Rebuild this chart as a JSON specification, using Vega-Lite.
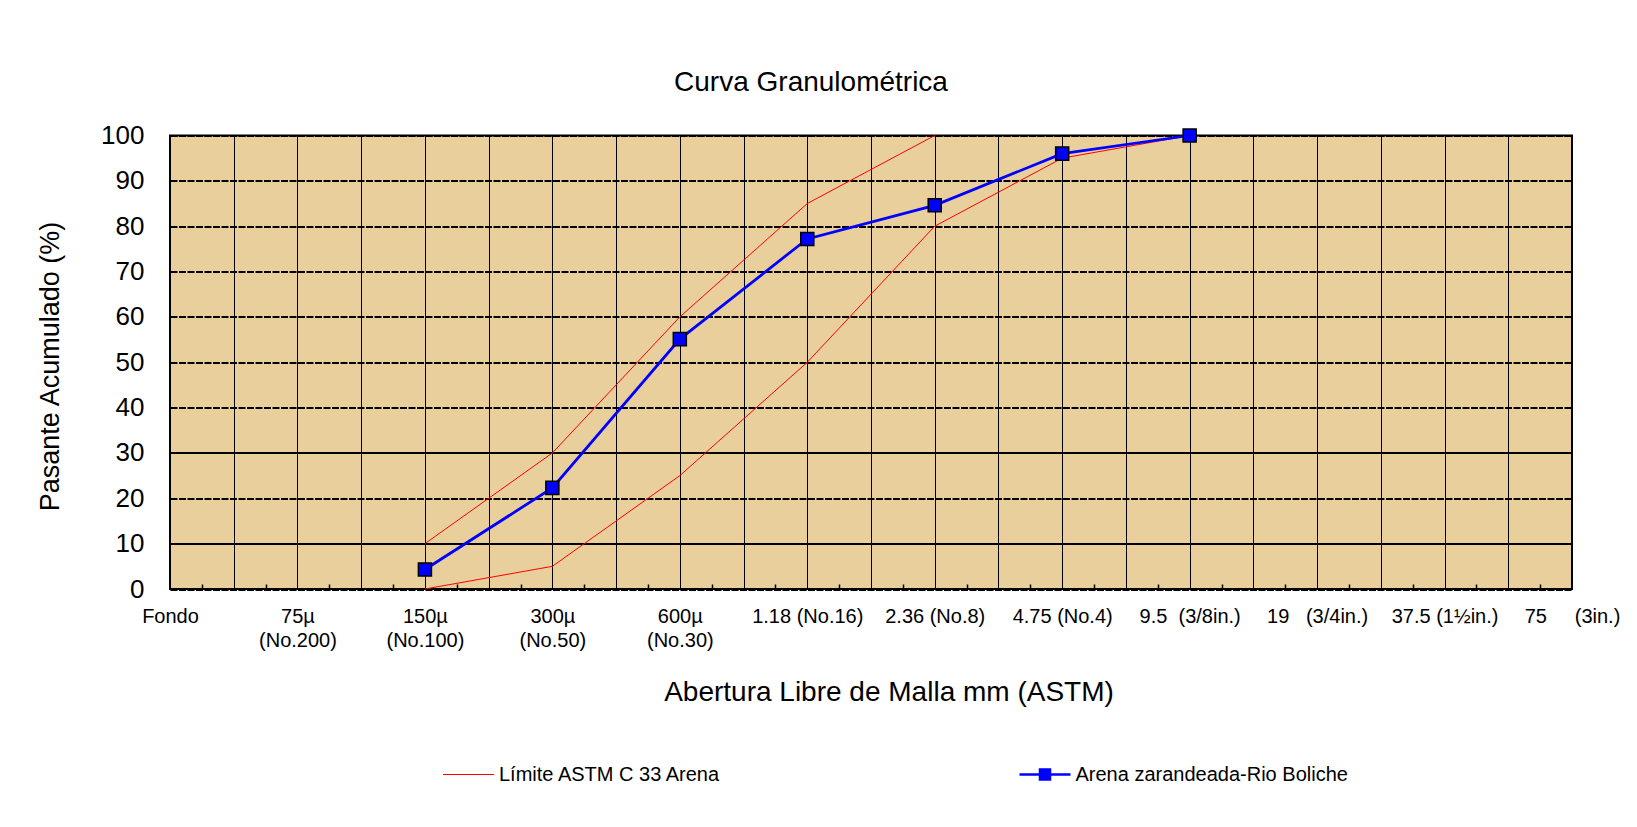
{
  "$schema": "https://vega.github.io/schema/vega-lite/v6.json",
  "width": 1402,
  "height": 453.5,
  "autosize": {"type": "none"},
  "padding": {"left": 170, "top": 135.5, "right": 65, "bottom": 238},
  "background": "white",
  "title": {
    "text": "Curva Granulométrica",
    "font": "Liberation Sans",
    "fontSize": 28,
    "fontWeight": "normal",
    "color": "black",
    "anchor": "middle",
    "frame": "group",
    "dx": -60,
    "offset": 26
  },
  "config": {
    "font": "Liberation Sans",
    "view": {"fill": "#E8CF9B", "stroke": "black", "strokeWidth": 2}
  },
  "data": {
    "values": [
      {"serie": "Límite ASTM C 33 Arena", "curva": "superior", "tamiz": "150µ", "posicion": 4, "pasante": 10},
      {"serie": "Límite ASTM C 33 Arena", "curva": "superior", "tamiz": "300µ", "posicion": 6, "pasante": 30},
      {"serie": "Límite ASTM C 33 Arena", "curva": "superior", "tamiz": "600µ", "posicion": 8, "pasante": 60},
      {"serie": "Límite ASTM C 33 Arena", "curva": "superior", "tamiz": "1.18", "posicion": 10, "pasante": 85},
      {"serie": "Límite ASTM C 33 Arena", "curva": "superior", "tamiz": "2.36", "posicion": 12, "pasante": 100},
      {"serie": "Límite ASTM C 33 Arena", "curva": "inferior", "tamiz": "150µ", "posicion": 4, "pasante": 0},
      {"serie": "Límite ASTM C 33 Arena", "curva": "inferior", "tamiz": "300µ", "posicion": 6, "pasante": 5},
      {"serie": "Límite ASTM C 33 Arena", "curva": "inferior", "tamiz": "600µ", "posicion": 8, "pasante": 25},
      {"serie": "Límite ASTM C 33 Arena", "curva": "inferior", "tamiz": "1.18", "posicion": 10, "pasante": 50},
      {"serie": "Límite ASTM C 33 Arena", "curva": "inferior", "tamiz": "2.36", "posicion": 12, "pasante": 80},
      {"serie": "Límite ASTM C 33 Arena", "curva": "inferior", "tamiz": "4.75", "posicion": 14, "pasante": 95},
      {"serie": "Límite ASTM C 33 Arena", "curva": "inferior", "tamiz": "9.5", "posicion": 16, "pasante": 100},
      {"serie": "Arena zarandeada-Rio Boliche", "curva": "muestra", "tamiz": "150µ", "posicion": 4, "pasante": 4.3},
      {"serie": "Arena zarandeada-Rio Boliche", "curva": "muestra", "tamiz": "300µ", "posicion": 6, "pasante": 22.3},
      {"serie": "Arena zarandeada-Rio Boliche", "curva": "muestra", "tamiz": "600µ", "posicion": 8, "pasante": 55.1},
      {"serie": "Arena zarandeada-Rio Boliche", "curva": "muestra", "tamiz": "1.18", "posicion": 10, "pasante": 77.2},
      {"serie": "Arena zarandeada-Rio Boliche", "curva": "muestra", "tamiz": "2.36", "posicion": 12, "pasante": 84.6},
      {"serie": "Arena zarandeada-Rio Boliche", "curva": "muestra", "tamiz": "4.75", "posicion": 14, "pasante": 96.0},
      {"serie": "Arena zarandeada-Rio Boliche", "curva": "muestra", "tamiz": "9.5", "posicion": 16, "pasante": 100}
    ]
  },
  "encoding": {
    "y": {
      "field": "pasante",
      "type": "quantitative",
      "scale": {"domain": [0, 100], "nice": false, "zero": true},
      "axis": {
        "title": "Pasante Acumulado (%)",
        "titleFont": "Liberation Sans",
        "titleFontSize": 27,
        "titleFontWeight": "normal",
        "titleColor": "black",
        "titleAngle": 270,
        "titleAlign": "center",
        "titleBaseline": "middle",
        "titleX": -120,
        "titleY": 230.5,
        "values": [0, 10, 20, 30, 40, 50, 60, 70, 80, 90, 100],
        "labelFont": "Liberation Sans",
        "labelFontSize": 26,
        "labelColor": "black",
        "labelPadding": 26,
        "labelOverlap": false,
        "ticks": false,
        "domain": false,
        "grid": true,
        "gridColor": "black",
        "gridOpacity": 1,
        "gridWidth": 2,
        "gridDash": {"condition": {"test": "datum.value == 10 || datum.value == 30", "value": []}, "value": [7, 1.5]}
      }
    },
    "color": {
      "field": "serie",
      "type": "nominal",
      "scale": {
        "domain": ["Límite ASTM C 33 Arena", "Arena zarandeada-Rio Boliche"],
        "range": ["#FF0000", "#0000FF"]
      },
      "legend": {
        "title": null,
        "orient": "none",
        "legendX": 288.5,
        "legendY": 629,
        "direction": "horizontal",
        "columns": 2,
        "columnPadding": 292.5,
        "labelFont": "Liberation Sans",
        "labelFontSize": 20,
        "labelColor": "black",
        "labelLimit": 600,
        "labelOffset": 20.5,
        "symbolSize": 100,
        "encode": {
          "symbols": {
            "update": {
              "shape": {"signal": "datum.value === 'Arena zarandeada-Rio Boliche' ? 'M-5.1,0H5.1M-1,-1H1V1H-1Z' : 'M-5.1,0H5.1'"},
              "stroke": {"signal": "datum.value === 'Arena zarandeada-Rio Boliche' ? '#0000FF' : '#FF0000'"},
              "fill": {"signal": "datum.value === 'Arena zarandeada-Rio Boliche' ? '#0000FF' : 'transparent'"},
              "strokeWidth": {"signal": "datum.value === 'Arena zarandeada-Rio Boliche' ? 2.5 : 1"},
              "opacity": {"value": 1}
            }
          }
        }
      }
    }
  },
  "layer": [
    {
      "transform": [{"filter": "datum.serie === 'Límite ASTM C 33 Arena'"}],
      "mark": {"type": "line", "strokeWidth": 1},
      "encoding": {
        "x": {
          "field": "posicion",
          "type": "quantitative",
          "scale": {"domain": [0, 22], "nice": false, "zero": false},
          "axis": {
            "orient": "bottom",
            "title": "Abertura Libre de Malla mm (ASTM)",
            "titleFont": "Liberation Sans",
            "titleFontSize": 28,
            "titleFontWeight": "normal",
            "titleColor": "black",
            "titleAlign": "center",
            "titleBaseline": "alphabetic",
            "titleX": 718.5,
            "titleY": 111.5,
            "values": [0, 1, 2, 3, 4, 5, 6, 7, 8, 9, 10, 11, 12, 13, 14, 15, 16, 17, 18, 19, 20, 21, 22],
            "labelExpr": "datum.value == 0 ? 'Fondo' : datum.value == 2 ? ['75µ', '(No.200)'] : datum.value == 4 ? ['150µ', '(No.100)'] : datum.value == 6 ? ['300µ', '(No.50)'] : datum.value == 8 ? ['600µ', '(No.30)'] : datum.value == 10 ? '1.18 (No.16)' : datum.value == 12 ? '2.36 (No.8)' : datum.value == 14 ? '4.75 (No.4)' : datum.value == 16 ? '9.5\u00a0\u00a0(3/8in.)' : datum.value == 18 ? '19\u00a0\u00a0\u00a0(3/4in.)' : datum.value == 20 ? '37.5 (1½in.)' : datum.value == 22 ? '75\u00a0\u00a0\u00a0\u00a0\u00a0(3in.)' : ''",
            "labelFont": "Liberation Sans",
            "labelFontSize": 20,
            "labelColor": "black",
            "labelBaseline": "alphabetic",
            "labelPadding": 33,
            "labelLineHeight": 24,
            "labelOverlap": false,
            "labelFlush": false,
            "labelBound": false,
            "ticks": false,
            "domain": false,
            "grid": true,
            "gridColor": "black",
            "gridOpacity": 1,
            "gridWidth": 1
          }
        },
        "detail": {"field": "curva", "type": "nominal"}
      }
    },
    {
      "transform": [{"filter": "datum.serie === 'Arena zarandeada-Rio Boliche'"}],
      "mark": {
        "type": "line",
        "strokeWidth": 2.75,
        "point": {"filled": true, "shape": "square", "size": 170, "stroke": "black", "strokeWidth": 1.5, "opacity": 1}
      },
      "encoding": {
        "x": {
          "field": "posicion",
          "type": "quantitative",
          "scale": {"domain": [0, 22], "nice": false, "zero": false},
          "axis": {
            "orient": "bottom",
            "title": null,
            "values": [0.5, 1.5, 2.5, 3.5, 4.5, 5.5, 6.5, 7.5, 8.5, 9.5, 10.5, 11.5, 12.5, 13.5, 14.5, 15.5, 16.5, 17.5, 18.5, 19.5, 20.5, 21.5],
            "labels": false,
            "grid": false,
            "domain": false,
            "ticks": true,
            "tickSize": -5,
            "tickColor": "black",
            "tickWidth": 1.5
          }
        }
      }
    }
  ],
  "resolve": {"axis": {"x": "independent"}}
}
